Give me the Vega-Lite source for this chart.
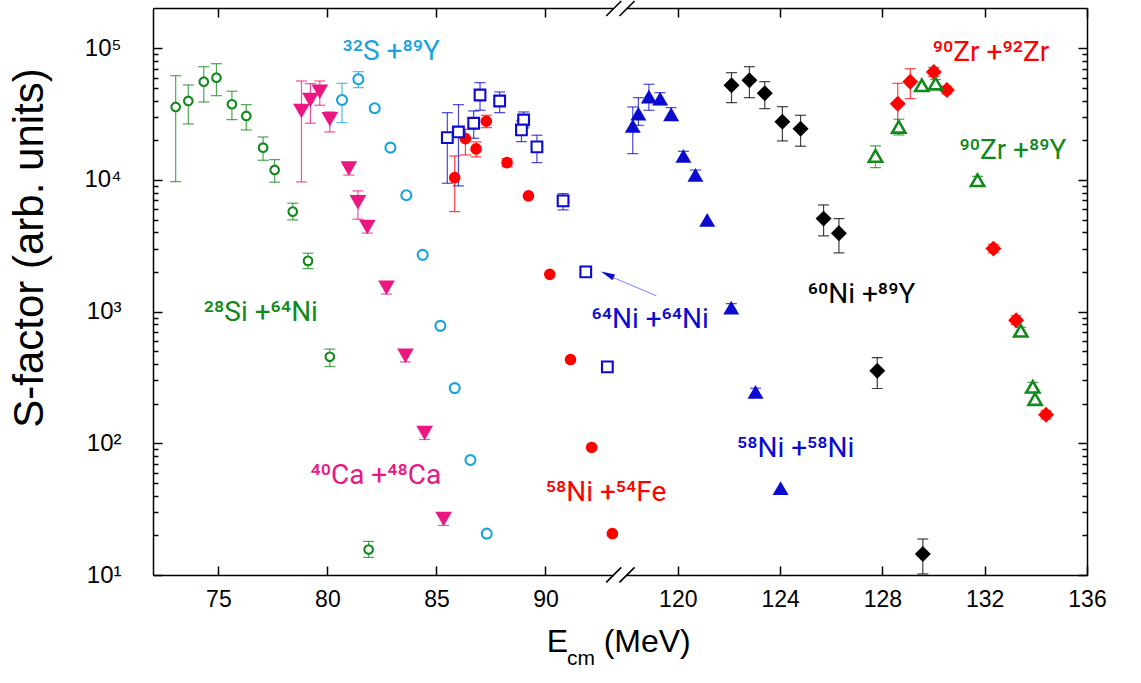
{
  "$schema": "https://vega.github.io/schema/vega-lite/v6.json",
  "background": "white",
  "padding": {"left": 7, "top": 0, "right": 5, "bottom": 5},
  "bounds": "flush",
  "spacing": 0,
  "config": {
    "font": "Liberation Sans",
    "view": {"stroke": null},
    "axis": {"grid": false, "domainColor": "black", "domainWidth": 1.5, "tickColor": "black", "tickWidth": 1.5, "labelColor": "black", "titleColor": "black", "labelFont": "Liberation Sans", "titleFont": "Liberation Sans", "titleFontWeight": "normal", "labelOverlap": false, "labelFlush": false, "labelBound": false}
  },
  "datasets": {
    "pts": [
      {"sys":"SiNi","panel":"L","x":73.04,"y":35850,"lo":9716,"hi":61940},
      {"sys":"SiNi","panel":"L","x":73.62,"y":39810,"lo":26630,"hi":52660},
      {"sys":"SiNi","panel":"L","x":74.33,"y":55780,"lo":39090,"hi":72500},
      {"sys":"SiNi","panel":"L","x":74.91,"y":59820,"lo":43680,"hi":76400},
      {"sys":"SiNi","panel":"L","x":75.62,"y":37580,"lo":28720,"hi":47170},
      {"sys":"SiNi","panel":"L","x":76.28,"y":30630,"lo":23980,"hi":37320},
      {"sys":"SiNi","panel":"L","x":77.05,"y":17600,"lo":14120,"hi":21220},
      {"sys":"SiNi","panel":"L","x":77.58,"y":11920,"lo":9614,"hi":14270},
      {"sys":"SiNi","panel":"L","x":78.41,"y":5752,"lo":4974,"hi":6660},
      {"sys":"SiNi","panel":"L","x":79.11,"y":2430,"lo":2124,"hi":2780},
      {"sys":"SiNi","panel":"L","x":80.11,"y":454,"lo":383,"hi":519},
      {"sys":"SiNi","panel":"L","x":81.89,"y":15.6,"lo":13.6,"hi":18.0},
      {"sys":"CaCa","panel":"L","x":78.81,"y":33430,"lo":9665,"hi":56470},
      {"sys":"CaCa","panel":"L","x":79.22,"y":40510,"lo":26960,"hi":53880},
      {"sys":"CaCa","panel":"L","x":79.65,"y":46840,"lo":36940,"hi":56470},
      {"sys":"CaCa","panel":"L","x":80.11,"y":28920,"lo":23160,"hi":32850},
      {"sys":"CaCa","panel":"L","x":80.98,"y":12240,"lo":10900,"hi":13500},
      {"sys":"CaCa","panel":"L","x":81.40,"y":6778,"lo":5035,"hi":8259},
      {"sys":"CaCa","panel":"L","x":81.83,"y":4401,"lo":3950,"hi":4800},
      {"sys":"CaCa","panel":"L","x":82.71,"y":1516,"lo":1360,"hi":1650},
      {"sys":"CaCa","panel":"L","x":83.58,"y":462,"lo":415,"hi":505},
      {"sys":"CaCa","panel":"L","x":84.46,"y":119.7,"lo":107,"hi":131},
      {"sys":"CaCa","panel":"L","x":85.33,"y":26.6,"lo":23.8,"hi":29},
      {"sys":"SY","panel":"L","x":80.67,"y":40510,"lo":27250,"hi":54250},
      {"sys":"SY","panel":"L","x":81.42,"y":58170,"lo":50230,"hi":66440},
      {"sys":"SY","panel":"L","x":82.17,"y":35040},
      {"sys":"SY","panel":"L","x":82.89,"y":17600},
      {"sys":"SY","panel":"L","x":83.62,"y":7660},
      {"sys":"SY","panel":"L","x":84.37,"y":2699},
      {"sys":"SY","panel":"L","x":85.18,"y":780},
      {"sys":"SY","panel":"L","x":85.84,"y":262.6},
      {"sys":"SY","panel":"L","x":86.56,"y":74.6},
      {"sys":"SY","panel":"L","x":87.31,"y":20.6},
      {"sys":"NiFe","panel":"L","x":85.84,"y":10420,"lo":5752,"hi":15220},
      {"sys":"NiFe","panel":"L","x":86.33,"y":20600,"lo":15490,"hi":24280},
      {"sys":"NiFe","panel":"L","x":86.82,"y":17210,"lo":14960,"hi":19440},
      {"sys":"NiFe","panel":"L","x":87.29,"y":27920,"lo":24960,"hi":31000},
      {"sys":"NiFe","panel":"L","x":88.24,"y":13540,"lo":12600,"hi":14500},
      {"sys":"NiFe","panel":"L","x":89.22,"y":7568},
      {"sys":"NiFe","panel":"L","x":90.20,"y":1919},
      {"sys":"NiFe","panel":"L","x":91.15,"y":432.9},
      {"sys":"NiFe","panel":"L","x":92.12,"y":93.0},
      {"sys":"NiFe","panel":"L","x":93.07,"y":20.6},
      {"sys":"NiNi64","panel":"L","x":85.50,"y":20960,"lo":9447,"hi":32450},
      {"sys":"NiNi64","panel":"L","x":86.01,"y":23160,"lo":9013,"hi":37320},
      {"sys":"NiNi64","panel":"L","x":86.71,"y":26960,"lo":20740,"hi":33430},
      {"sys":"NiNi64","panel":"L","x":87.00,"y":44200,"lo":33830,"hi":54820},
      {"sys":"NiNi64","panel":"L","x":87.90,"y":39810,"lo":32450,"hi":46600},
      {"sys":"NiNi64","panel":"L","x":89.00,"y":28560,"lo":24900,"hi":32850},
      {"sys":"NiNi64","panel":"L","x":88.90,"y":23980,"lo":19550,"hi":28070},
      {"sys":"NiNi64","panel":"L","x":89.61,"y":17820,"lo":13540,"hi":21870},
      {"sys":"NiNi64","panel":"L","x":90.81,"y":6934,"lo":5924,"hi":7876},
      {"sys":"NiNi64","panel":"L","x":91.85,"y":2005},
      {"sys":"NiNi64","panel":"L","x":92.84,"y":381},
      {"sys":"NiNi58","panel":"R","x":118.24,"y":25720,"lo":15850,"hi":35850},
      {"sys":"NiNi58","panel":"R","x":118.46,"y":31890,"lo":26000,"hi":42170},
      {"sys":"NiNi58","panel":"R","x":118.87,"y":43070,"lo":33830,"hi":53320},
      {"sys":"NiNi58","panel":"R","x":119.31,"y":41450,"lo":37320,"hi":46030},
      {"sys":"NiNi58","panel":"R","x":119.74,"y":31560,"lo":28500,"hi":35410},
      {"sys":"NiNi58","panel":"R","x":120.22,"y":15220,"lo":14000,"hi":16500},
      {"sys":"NiNi58","panel":"R","x":120.69,"y":10920,"lo":10000,"hi":11900},
      {"sys":"NiNi58","panel":"R","x":121.15,"y":4974},
      {"sys":"NiNi58","panel":"R","x":122.09,"y":1074,"lo":1000,"hi":1150},
      {"sys":"NiNi58","panel":"R","x":123.04,"y":246.2,"lo":230,"hi":262},
      {"sys":"NiNi58","panel":"R","x":124.02,"y":45.74},
      {"sys":"NiY","panel":"R","x":122.10,"y":52380,"lo":38650,"hi":65290},
      {"sys":"NiY","panel":"R","x":122.80,"y":57160,"lo":42170,"hi":72500},
      {"sys":"NiY","panel":"R","x":123.40,"y":45540,"lo":34800,"hi":55780},
      {"sys":"NiY","panel":"R","x":124.09,"y":27730,"lo":19790,"hi":36040},
      {"sys":"NiY","panel":"R","x":124.80,"y":24530,"lo":18040,"hi":31000},
      {"sys":"NiY","panel":"R","x":125.70,"y":5088,"lo":3762,"hi":6465},
      {"sys":"NiY","panel":"R","x":126.30,"y":3944,"lo":2794,"hi":5088},
      {"sys":"NiY","panel":"R","x":127.80,"y":355.3,"lo":260.8,"hi":448.3},
      {"sys":"NiY","panel":"R","x":129.58,"y":14.43,"lo":10.18,"hi":18.76},
      {"sys":"ZrZr","panel":"R","x":128.60,"y":37970,"lo":23040,"hi":54250},
      {"sys":"ZrZr","panel":"R","x":129.09,"y":55780,"lo":41450,"hi":70000},
      {"sys":"ZrZr","panel":"R","x":130.01,"y":66090,"lo":61000,"hi":71500},
      {"sys":"ZrZr","panel":"R","x":130.52,"y":48250,"lo":45000,"hi":51500},
      {"sys":"ZrZr","panel":"R","x":132.34,"y":3011,"lo":2800,"hi":3250},
      {"sys":"ZrZr","panel":"R","x":133.23,"y":861.8,"lo":800,"hi":930},
      {"sys":"ZrZr","panel":"R","x":134.40,"y":164.7,"lo":153,"hi":177},
      {"sys":"ZrY","panel":"R","x":127.73,"y":15220,"lo":12410,"hi":18130},
      {"sys":"ZrY","panel":"R","x":128.64,"y":25280,"lo":21980,"hi":28920},
      {"sys":"ZrY","panel":"R","x":129.54,"y":52380},
      {"sys":"ZrY","panel":"R","x":130.08,"y":53880,"lo":50000,"hi":58000},
      {"sys":"ZrY","panel":"R","x":131.72,"y":9957,"lo":9300,"hi":10650},
      {"sys":"ZrY","panel":"R","x":133.41,"y":714.9,"lo":670,"hi":760},
      {"sys":"ZrY","panel":"R","x":133.88,"y":268.7,"lo":250,"hi":290},
      {"sys":"ZrY","panel":"R","x":133.97,"y":216.7}
    ],
    "labels": [
      {"sys":"SY","panel":"L","x":80.69,"y":81080,"text":"³²S +⁸⁹Y"},
      {"sys":"SiNi","panel":"L","x":74.33,"y":851.5,"text":"²⁸Si +⁶⁴Ni"},
      {"sys":"CaCa","panel":"L","x":79.22,"y":49.06,"text":"⁴⁰Ca +⁴⁸Ca"},
      {"sys":"NiFe","panel":"L","x":90.01,"y":36.64,"text":"⁵⁸Ni +⁵⁴Fe"},
      {"sys":"NiNi64","panel":"L","x":92.11,"y":757.5,"text":"⁶⁴Ni +⁶⁴Ni"},
      {"sys":"NiNi58","panel":"R","x":122.31,"y":78.08,"text":"⁵⁸Ni +⁵⁸Ni"},
      {"sys":"NiY","panel":"R","x":125.08,"y":1172,"text":"⁶⁰Ni +⁸⁹Y"},
      {"sys":"ZrZr","panel":"R","x":129.97,"y":80100,"text":"⁹⁰Zr +⁹²Zr"},
      {"sys":"ZrY","panel":"R","x":131.01,"y":14370,"text":"⁹⁰Zr +⁸⁹Y"}
    ],
    "breaks": [
      {"kind":"gap","x":117.49,"x2":118.01,"y":10,"y2":10},
      {"kind":"gap","x":117.49,"x2":118.01,"y":202300,"y2":202300},
      {"kind":"slash","x":117.20,"x2":117.79,"y":8.786,"y2":11.419},
      {"kind":"slash","x":117.72,"x2":118.31,"y":8.786,"y2":11.419},
      {"kind":"slash","x":117.20,"x2":117.79,"y":175900,"y2":228600},
      {"kind":"slash","x":117.72,"x2":118.31,"y":175900,"y2":228600}
    ],
    "arrowline": [{"x":93.04,"y":1837,"x2":95.09,"y2":1318.5}],
    "arrowhead": [{"x":92.84,"y":1916}],
    "xtitle": [{"x":90.06,"y":2.585,"text":"E"},{"x":92.67,"y":2.585,"text":"(MeV)"}],
    "xtitlesub": [{"x":90.99,"y":2.085,"text":"cm"}]
  },
  "hconcat": [
    {
      "width": 467,
      "height": 567,
      "layer": [
        {
          "data": {"name": "pts"},
          "transform": [{"filter": "datum.panel === 'L' && datum.lo != null"}],
          "mark": {"type": "rule", "strokeWidth": 1.2, "opacity": 0.75},
          "encoding": {
            "x": {"field": "x", "type": "quantitative", "scale": {"domain": [72, 93.42], "nice": false, "zero": false},
                  "axis": {"orient": "bottom", "values": [75, 80, 85, 90], "tickSize": -9, "labelPadding": 22, "labelFontSize": 23, "title": null, "format": "d"}},
            "y": {"field": "lo", "type": "quantitative", "scale": {"type": "log", "domain": [10, 202300], "nice": false},
                  "axis": {"orient": "left", "values": [10, 100, 1000, 10000, 100000], "tickSize": -9, "labelPadding": 41, "labelFontSize": 24,
                           "labelExpr": "'10' + ['⁰','¹','²','³','⁴','⁵'][round(log(datum.value)/LN10)]",
                           "title": "S-factor  (arb. units)", "titleFontSize": 42, "titleX": -102, "titleY": 239.5}},
            "y2": {"field": "hi"},
            "color": {"field": "sys", "type": "nominal", "legend": null,
                      "scale": {"domain": ["SiNi","SY","CaCa","NiFe","NiNi64","NiNi58","NiY","ZrZr","ZrY"],
                                "range": ["#12891b","#1ba3e0","#ec1682","#ff0000","#0a0ad0","#0a0ad0","#000000","#ff0000","#12891b"]}}
          }
        },
        {
          "data": {"name": "pts"},
          "transform": [{"filter": "datum.panel === 'L' && datum.lo != null"}],
          "mark": {"type": "tick", "orient": "horizontal", "size": 11, "thickness": 1.2, "opacity": 0.75},
          "encoding": {
            "x": {"field": "x", "type": "quantitative", "axis": {"orient": "top", "values": [75, 80, 85, 90], "tickSize": -9, "labels": false, "title": null}},
            "y": {"field": "lo", "type": "quantitative",
                  "axis": {"orient": "left", "values": [20,30,40,50,60,70,80,90,200,300,400,500,600,700,800,900,2000,3000,4000,5000,6000,7000,8000,9000,20000,30000,40000,50000,60000,70000,80000,90000], "tickSize": -5, "labels": false, "domain": false, "title": null}},
            "color": {"field": "sys", "type": "nominal", "legend": null}
          }
        },
        {
          "data": {"name": "pts"},
          "transform": [{"filter": "datum.panel === 'L' && datum.hi != null"}],
          "mark": {"type": "tick", "orient": "horizontal", "size": 11, "thickness": 1.2, "opacity": 0.75},
          "encoding": {
            "x": {"field": "x", "type": "quantitative", "axis": null},
            "y": {"field": "hi", "type": "quantitative", "axis": null},
            "color": {"field": "sys", "type": "nominal", "legend": null}
          }
        },
        {
          "data": {"name": "pts"},
          "transform": [{"filter": "datum.panel === 'L'"}, {"filter": {"not": {"field": "sys", "oneOf": ["SiNi","SY","NiNi64","ZrY"]}}}],
          "mark": {"type": "point", "filled": true, "opacity": 1, "strokeWidth": 0},
          "encoding": {
            "x": {"field": "x", "type": "quantitative", "axis": null},
            "y": {"field": "y", "type": "quantitative", "axis": null},
            "color": {"field": "sys", "type": "nominal", "legend": null},
            "shape": {"field": "sys", "type": "nominal", "legend": null,
                      "scale": {"domain": ["SiNi","SY","CaCa","NiFe","NiNi64","NiNi58","NiY","ZrZr","ZrY"],
                                "range": ["circle","circle","triangle-down","circle","square","triangle-up","diamond","diamond","triangle-up"]}},
            "size": {"condition": [{"test": "datum.sys === 'NiFe'", "value": 135}, {"test": "datum.sys === 'CaCa'", "value": 280}], "value": 255}
          }
        },
        {
          "data": {"name": "pts"},
          "transform": [{"filter": "datum.panel === 'L'"}, {"filter": {"field": "sys", "oneOf": ["SiNi","SY","NiNi64","ZrY"]}}],
          "mark": {"type": "point", "filled": false, "fill": "white", "fillOpacity": 1, "opacity": 1, "strokeWidth": 2.1},
          "encoding": {
            "x": {"field": "x", "type": "quantitative", "axis": null},
            "y": {"field": "y", "type": "quantitative", "axis": null},
            "color": {"field": "sys", "type": "nominal", "legend": null},
            "shape": {"field": "sys", "type": "nominal", "legend": null},
            "size": {"condition": [{"test": "datum.sys === 'SiNi'", "value": 74}, {"test": "datum.sys === 'SY'", "value": 100}, {"test": "datum.sys === 'NiNi64'", "value": 115}], "value": 175}
          }
        },
        {
          "data": {"name": "labels"},
          "transform": [{"filter": "datum.panel === 'L'"}],
          "mark": {"type": "text", "align": "left", "baseline": "alphabetic", "fontSize": 28, "font": "Roboto"},
          "encoding": {
            "x": {"field": "x", "type": "quantitative", "axis": null},
            "y": {"field": "y", "type": "quantitative", "axis": null},
            "text": {"field": "text"},
            "color": {"field": "sys", "type": "nominal", "legend": null}
          }
        },
        {
          "data": {"name": "arrowline"},
          "mark": {"type": "rule", "color": "#7d7dff", "strokeWidth": 1},
          "encoding": {
            "x": {"field": "x", "type": "quantitative", "axis": null},
            "x2": {"field": "x2"},
            "y": {"field": "y", "type": "quantitative", "axis": null},
            "y2": {"field": "y2"}
          }
        },
        {
          "data": {"name": "arrowhead"},
          "mark": {"type": "point", "shape": "M-1,0L1,-0.45L1,0.45Z", "size": 196, "angle": 24, "filled": true, "color": "#0a0ad0", "opacity": 1},
          "encoding": {
            "x": {"field": "x", "type": "quantitative", "axis": null},
            "y": {"field": "y", "type": "quantitative", "axis": null}
          }
        },
        {
          "data": {"name": "xtitle"},
          "mark": {"type": "text", "align": "left", "baseline": "alphabetic", "fontSize": 32, "color": "black"},
          "encoding": {
            "x": {"field": "x", "type": "quantitative", "axis": null},
            "y": {"field": "y", "type": "quantitative", "axis": null},
            "text": {"field": "text"}
          }
        },
        {
          "data": {"name": "xtitlesub"},
          "mark": {"type": "text", "align": "left", "baseline": "alphabetic", "fontSize": 21, "color": "black"},
          "encoding": {
            "x": {"field": "x", "type": "quantitative", "axis": null},
            "y": {"field": "y", "type": "quantitative", "axis": null},
            "text": {"field": "text"}
          }
        }
      ],
      "resolve": {"axis": {"x": "independent", "y": "independent"}}
    },
    {
      "width": 467,
      "height": 567,
      "layer": [
        {
          "data": {"name": "pts"},
          "transform": [{"filter": "datum.panel === 'R' && datum.lo != null"}],
          "mark": {"type": "rule", "strokeWidth": 1.2, "opacity": 0.75},
          "encoding": {
            "x": {"field": "x", "type": "quantitative", "scale": {"domain": [117.74, 136], "nice": false, "zero": false},
                  "axis": {"orient": "bottom", "values": [120, 124, 128, 132, 136], "tickSize": -9, "labelPadding": 22, "labelFontSize": 23, "title": null, "format": "d"}},
            "y": {"field": "lo", "type": "quantitative", "scale": {"type": "log", "domain": [10, 202300], "nice": false},
                  "axis": {"orient": "right", "values": [10, 100, 1000, 10000, 100000], "tickSize": -9, "labels": false, "title": null}},
            "y2": {"field": "hi"},
            "color": {"field": "sys", "type": "nominal", "legend": null,
                      "scale": {"domain": ["SiNi","SY","CaCa","NiFe","NiNi64","NiNi58","NiY","ZrZr","ZrY"],
                                "range": ["#12891b","#1ba3e0","#ec1682","#ff0000","#0a0ad0","#0a0ad0","#000000","#ff0000","#12891b"]}}
          }
        },
        {
          "data": {"name": "pts"},
          "transform": [{"filter": "datum.panel === 'R' && datum.lo != null"}],
          "mark": {"type": "tick", "orient": "horizontal", "size": 11, "thickness": 1.2, "opacity": 0.75},
          "encoding": {
            "x": {"field": "x", "type": "quantitative", "axis": {"orient": "top", "values": [120, 124, 128, 132, 136], "tickSize": -9, "labels": false, "title": null}},
            "y": {"field": "lo", "type": "quantitative",
                  "axis": {"orient": "right", "values": [20,30,40,50,60,70,80,90,200,300,400,500,600,700,800,900,2000,3000,4000,5000,6000,7000,8000,9000,20000,30000,40000,50000,60000,70000,80000,90000], "tickSize": -5, "labels": false, "domain": false, "title": null}},
            "color": {"field": "sys", "type": "nominal", "legend": null}
          }
        },
        {
          "data": {"name": "pts"},
          "transform": [{"filter": "datum.panel === 'R' && datum.hi != null"}],
          "mark": {"type": "tick", "orient": "horizontal", "size": 11, "thickness": 1.2, "opacity": 0.75},
          "encoding": {
            "x": {"field": "x", "type": "quantitative", "axis": null},
            "y": {"field": "hi", "type": "quantitative", "axis": null},
            "color": {"field": "sys", "type": "nominal", "legend": null}
          }
        },
        {
          "data": {"name": "pts"},
          "transform": [{"filter": "datum.panel === 'R'"}, {"filter": {"not": {"field": "sys", "oneOf": ["SiNi","SY","NiNi64","ZrY"]}}}],
          "mark": {"type": "point", "filled": true, "opacity": 1, "strokeWidth": 0},
          "encoding": {
            "x": {"field": "x", "type": "quantitative", "axis": null},
            "y": {"field": "y", "type": "quantitative", "axis": null},
            "color": {"field": "sys", "type": "nominal", "legend": null},
            "shape": {"field": "sys", "type": "nominal", "legend": null,
                      "scale": {"domain": ["SiNi","SY","CaCa","NiFe","NiNi64","NiNi58","NiY","ZrZr","ZrY"],
                                "range": ["circle","circle","triangle-down","circle","square","triangle-up","diamond","diamond","triangle-up"]}},
            "size": {"condition": [{"test": "datum.sys === 'NiFe'", "value": 135}, {"test": "datum.sys === 'CaCa'", "value": 280}], "value": 255}
          }
        },
        {
          "data": {"name": "pts"},
          "transform": [{"filter": "datum.panel === 'R'"}, {"filter": {"field": "sys", "oneOf": ["SiNi","SY","NiNi64","ZrY"]}}],
          "mark": {"type": "point", "filled": false, "fill": "white", "fillOpacity": 1, "opacity": 1, "strokeWidth": 2.6},
          "encoding": {
            "x": {"field": "x", "type": "quantitative", "axis": null},
            "y": {"field": "y", "type": "quantitative", "axis": null},
            "color": {"field": "sys", "type": "nominal", "legend": null},
            "shape": {"field": "sys", "type": "nominal", "legend": null},
            "size": {"condition": [{"test": "datum.sys === 'SiNi'", "value": 74}, {"test": "datum.sys === 'SY'", "value": 100}, {"test": "datum.sys === 'NiNi64'", "value": 115}], "value": 175}
          }
        },
        {
          "data": {"name": "labels"},
          "transform": [{"filter": "datum.panel === 'R'"}],
          "mark": {"type": "text", "align": "left", "baseline": "alphabetic", "fontSize": 28, "font": "Roboto"},
          "encoding": {
            "x": {"field": "x", "type": "quantitative", "axis": null},
            "y": {"field": "y", "type": "quantitative", "axis": null},
            "text": {"field": "text"},
            "color": {"field": "sys", "type": "nominal", "legend": null}
          }
        },
        {
          "data": {"name": "breaks"},
          "transform": [{"filter": "datum.kind === 'gap'"}],
          "mark": {"type": "rule", "color": "white", "strokeWidth": 5, "strokeCap": "butt"},
          "encoding": {
            "x": {"field": "x", "type": "quantitative", "axis": null},
            "x2": {"field": "x2"},
            "y": {"field": "y", "type": "quantitative", "axis": null},
            "y2": {"field": "y2"}
          }
        },
        {
          "data": {"name": "breaks"},
          "transform": [{"filter": "datum.kind === 'slash'"}],
          "mark": {"type": "rule", "color": "black", "strokeWidth": 1.6},
          "encoding": {
            "x": {"field": "x", "type": "quantitative", "axis": null},
            "x2": {"field": "x2"},
            "y": {"field": "y", "type": "quantitative", "axis": null},
            "y2": {"field": "y2"}
          }
        }
      ],
      "resolve": {"axis": {"x": "independent", "y": "independent"}}
    }
  ],
  "resolve": {"scale": {"x": "independent", "y": "independent"}}
}
